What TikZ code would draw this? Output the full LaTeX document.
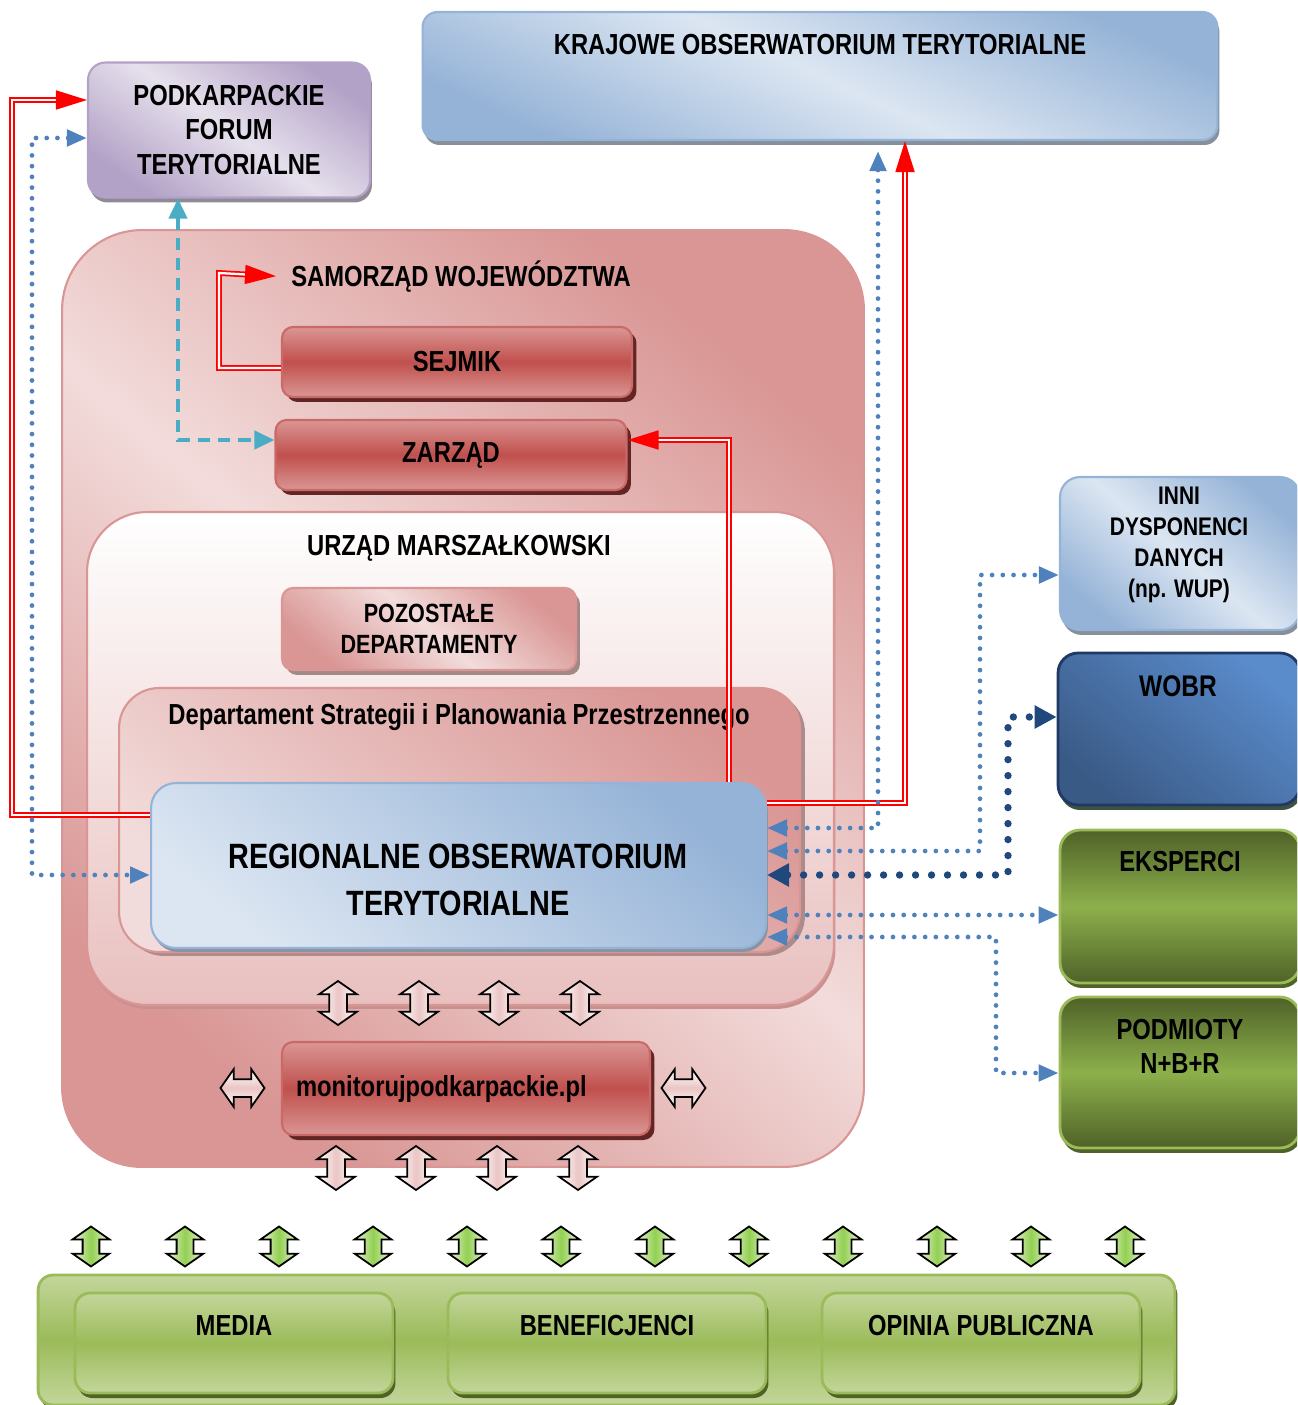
\documentclass[tikz,border=0pt]{standalone}
\usepackage{fontspec}
\setmainfont{Liberation Sans}[FakeStretch=0.82]
\usepackage{tikz}
\usetikzlibrary{shapes.geometric, shapes.arrows, arrows.meta, positioning, shadows}

\definecolor{kotdark}{HTML}{95B3D7}
\definecolor{kotlight}{HTML}{DCE6F2}
\definecolor{purdark}{HTML}{B3A2C7}
\definecolor{purlight}{HTML}{E6E0EC}
\definecolor{pinkdark}{HTML}{D99694}
\definecolor{pinklight}{HTML}{F2DCDB}
\definecolor{redmid}{HTML}{C0504D}
\definecolor{redlight}{HTML}{DA9694}
\definecolor{redshadow}{HTML}{632523}
\definecolor{wobrdark}{HTML}{3A5A86}
\definecolor{wobrlight}{HTML}{5A8BCB}
\definecolor{navy}{HTML}{1F3864}
\definecolor{olivedark}{HTML}{4F6228}
\definecolor{olivemid}{HTML}{8DB04B}
\definecolor{greenline}{HTML}{9BBB59}
\definecolor{greenlight}{HTML}{C3D69B}
\definecolor{arrowgreen}{HTML}{92D050}
\definecolor{arrowpale}{HTML}{EBF1DE}
\definecolor{dotblue}{HTML}{4F81BD}
\definecolor{dotnavy}{HTML}{1F497D}
\definecolor{dashcyan}{HTML}{4BACC6}

\begin{document}
\begin{tikzpicture}[x=0.02cm, y=-0.02cm]
			\tikzstyle{txt} = [font=\fontsize{16.5}{19.4}\selectfont\bfseries, align=center, inner sep=0pt]
			\tikzstyle{smalltxt} = [font=\fontsize{14.5}{17.6}\selectfont\bfseries, align=center, inner sep=0pt]
			\tikzstyle{kotbox} = [rectangle, rounded corners=0.3cm, draw=kotdark, line width=1.2pt, top color=kotdark, bottom color=kotdark, middle color=kotlight, shading angle=-25, drop shadow={shadow xshift=0.04cm, shadow yshift=-0.1cm, fill=gray!70!kotdark, opacity=1}]
			\tikzstyle{pftbox} = [rectangle, rounded corners=0.35cm, draw=purdark, line width=1.2pt, top color=purdark, bottom color=purdark, middle color=purlight, shading angle=-35, drop shadow={shadow xshift=0.04cm, shadow yshift=-0.1cm, fill=gray!70!purdark, opacity=1}, font=\fontsize{16.5}{19.4}\selectfont\bfseries, align=center]
			\tikzstyle{sambox} = [rectangle, rounded corners=1.6cm, draw=pinkdark, line width=1.2pt, top color=pinkdark, bottom color=pinkdark, middle color=pinklight, shading angle=-40]
			\tikzstyle{umbox} = [rectangle, rounded corners=1.2cm, draw=pinkdark, line width=1.2pt, top color=white, bottom color=pinkdark!60!white, drop shadow={shadow xshift=0.03cm, shadow yshift=-0.08cm, fill=pinkdark!80!gray, opacity=1}]
			\tikzstyle{redbox} = [rectangle, rounded corners=0.22cm, draw=redmid!85!white, line width=1.2pt, top color=redlight, bottom color=redlight, middle color=redmid, drop shadow={shadow xshift=0.09cm, shadow yshift=-0.1cm, fill=redshadow, opacity=1}, font=\fontsize{16.5}{19.4}\selectfont\bfseries]
			\tikzstyle{pinkbox} = [rectangle, rounded corners=0.22cm, draw=pinkdark, line width=1.2pt, top color=pinkdark, bottom color=pinkdark, middle color=pinklight, shading angle=-40, drop shadow={shadow xshift=0.08cm, shadow yshift=-0.1cm, fill=gray!60!pinkdark, opacity=1}, font=\fontsize{15}{17.6}\selectfont\bfseries, align=center]
			\tikzstyle{dspbox} = [rectangle, rounded corners=0.8cm, draw=pinkdark, line width=1.2pt, top color=pinkdark, bottom color=pinklight, shading angle=-40, drop shadow={shadow xshift=0.1cm, shadow yshift=-0.08cm, fill=gray!50!pinkdark, opacity=1}]
			\tikzstyle{rotbox} = [rectangle, rounded corners=0.5cm, draw=kotdark, line width=1.2pt, top color=kotdark, bottom color=kotlight, shading angle=-40, drop shadow={shadow xshift=0.04cm, shadow yshift=-0.08cm, fill=gray!60!kotdark, opacity=1}]
			\tikzstyle{innibox} = [rectangle, rounded corners=0.4cm, draw=kotdark, line width=1.2pt, top color=kotdark, bottom color=kotdark, middle color=kotlight, shading angle=-40, drop shadow={shadow xshift=0.04cm, shadow yshift=-0.1cm, fill=gray!70!kotdark, opacity=1}]
			\tikzstyle{wobrbox} = [rectangle, rounded corners=0.4cm, draw=navy, line width=1.6pt, top color=wobrlight, bottom color=wobrdark, shading angle=-40, drop shadow={shadow xshift=0.04cm, shadow yshift=-0.1cm, fill=olivedark!60!navy, opacity=1}]
			\tikzstyle{olivebox} = [rectangle, rounded corners=0.4cm, draw=greenline, line width=1.6pt, top color=olivedark, bottom color=olivedark, middle color=olivemid, drop shadow={shadow xshift=0.04cm, shadow yshift=-0.1cm, fill=olivedark, opacity=1}]
			\tikzstyle{greenbox} = [rectangle, rounded corners=0.3cm, draw=greenline, line width=1.6pt, top color=greenlight, bottom color=greenlight, middle color=greenline, drop shadow={shadow xshift=0.05cm, shadow yshift=-0.1cm, fill=olivedark, opacity=1}]
			\tikzstyle{pinkdarrow} = [double arrow, draw=black, line width=1pt, inner sep=0.16cm, minimum width=0.74cm, minimum height=0.88cm, double arrow head extend=0.2cm, double arrow tip angle=110, left color=white, right color=white, middle color=pinkdark!55!white]
			\tikzstyle{greendarrow} = [double arrow, draw=black, line width=1pt, inner sep=0.15cm, minimum width=0.72cm, minimum height=0.8cm, double arrow head extend=0.2cm, double arrow tip angle=110, left color=arrowpale, right color=arrowpale, middle color=arrowgreen, shape border rotate=90]
			\tikzstyle{redline} = [draw=red, line width=1pt, double=white, double distance=1.3pt, ->, >={Triangle[length=0.62cm, width=0.38cm, fill=red]}]
			\tikzstyle{dotline} = [draw=dotblue, line width=2.7pt, line cap=round, dash pattern=on 0pt off 6.1pt, <->, >={Triangle[length=0.4cm, width=0.32cm]}]
			\tikzstyle{navyline} = [draw=dotnavy, line width=4.2pt, line cap=round, dash pattern=on 0pt off 9.1pt, <->, >={Triangle[length=0.44cm, width=0.44cm]}]
			\tikzstyle{dashline} = [draw=dashcyan, line width=2.3pt, dash pattern=on 7pt off 4.5pt, <->, >={Triangle[length=0.4cm, width=0.36cm]}]

			\useasboundingbox (0,0) rectangle (1297,1405);
			\clip (0,0) rectangle (1297,1405);

			% samorzad
			\node (sam) [sambox, minimum width=16.04cm, minimum height=18.74cm] at (463,698.5) {};
			\node (samtitle) [txt] at (461,277) {SAMORZĄD WOJEWÓDZTWA};
			\node (sejmik) [redbox, minimum width=7cm, minimum height=1.4cm] at (457,362) {SEJMIK};
			\node (zarzad) [redbox, minimum width=7.02cm, minimum height=1.4cm] at (451,455) {ZARZĄD};

			\node (um) [umbox, minimum width=14.94cm, minimum height=9.86cm] at (460.5,758.5) {};
			\node (umtitle) [txt] at (459,548) {URZĄD MARSZAŁKOWSKI};
			\node (pozostale) [pinkbox, minimum width=5.88cm, minimum height=1.64cm] at (429,629) {POZOSTAŁE\\DEPARTAMENTY};

			\node (dsp) [dspbox, minimum width=13.62cm, minimum height=5.28cm] at (459.5,820) {};
			\node (dsptitle) [txt] at (459,717) {Departament Strategii i Planowania Przestrzennego};
			\node (rot) [rotbox, minimum width=12.3cm, minimum height=3.3cm] at (458.5,865.5) {};
			\node (rottitle) [txt, font=\fontsize{20}{26.7}\selectfont\bfseries] at (458,880) {REGIONALNE OBSERWATORIUM\\TERYTORIALNE};

			\node (mon) [redbox, minimum width=7.36cm, minimum height=1.86cm, text width=6.8cm, align=left] at (466,1088.5) {monitorujpodkarpackie.pl};

			\foreach \x [count=\i] in {338,419,499,580}
				\node (up\i) [pinkdarrow, shape border rotate=90] at (\x,1003) {};
			\foreach \x [count=\i] in {336,416,497,578}
				\node (down\i) [pinkdarrow, shape border rotate=90] at (\x,1168) {};
			\node (monleft) [pinkdarrow, top color=white, bottom color=white, middle color=pinkdark!55!white] at (242.5,1088) {};
			\node (monright) [pinkdarrow, top color=white, bottom color=white, middle color=pinkdark!55!white] at (683.5,1088) {};

			% top boxes
			\node (kot) [kotbox, minimum width=15.9cm, minimum height=2.56cm] at (820,76) {};
			\node (kottitle) [txt] at (820,45) {KRAJOWE OBSERWATORIUM TERYTORIALNE};
			\node (pft) [pftbox, minimum width=5.64cm, minimum height=2.7cm] at (229,130) {PODKARPACKIE\\FORUM\\TERYTORIALNE};

			% right boxes
			\node (inni) [innibox, minimum width=4.8cm, minimum height=3.06cm] at (1180,553.5) {};
			\node (innititle) [smalltxt] at (1179,545) {INNI\\DYSPONENCI\\DANYCH\\(np. WUP)};
			\node (wobr) [wobrbox, minimum width=4.84cm, minimum height=3.04cm] at (1179,729) {};
			\node (wobrtitle) [txt, font=\fontsize{17}{20}\selectfont\bfseries] at (1178,686) {WOBR};
			\node (eks) [olivebox, minimum width=4.8cm, minimum height=3.06cm] at (1180,906.5) {};
			\node (ekstitle) [txt] at (1180,862) {EKSPERCI};
			\node (podm) [olivebox, minimum width=4.8cm, minimum height=3.02cm] at (1180,1072.5) {};
			\node (podmtitle) [txt] at (1180,1046) {PODMIOTY\\N+B+R};

			% bottom
			\foreach \i in {0,...,11}
				\node (g\i) [greendarrow] at (91+94*\i,1246.5) {};
			\node (base) [greenbox, minimum width=22.74cm, minimum height=2.6cm] at (606.5,1340) {};
			\node (media) [greenbox, minimum width=6.36cm, minimum height=2cm] at (234,1343) {};
			\node (benef) [greenbox, minimum width=6.36cm, minimum height=2cm] at (607,1343) {};
			\node (opinia) [greenbox, minimum width=6.36cm, minimum height=2cm] at (981,1343) {};
			\node (mediatitle) [txt] at (234,1326) {MEDIA};
			\node (beneftitle) [txt] at (607,1326) {BENEFICJENCI};
			\node (opiniatitle) [txt] at (981,1326) {OPINIA PUBLICZNA};

			% connectors
			\draw [redline] (rot.west |- 0,815) -| (12,100) -- (pft.west |- 0,100);
			\draw [dotline] (pft.west |- 0,138) -| (32,875) -- (rot.west |- 0,875);
			\draw [dashline] (pft.south -| 178,0) |- (zarzad.west |- 0,440);
			\draw [redline, shorten >=0.3cm] (sejmik.west |- 0,368) -| (219,273) -- (samtitle.west);
			\draw [redline] (rot.north -| 729,0) |- (zarzad.east |- 0,440);
			\draw [redline] (rot.east |- 0,803) -| (kot.south -| 905,0);
			\draw [dotline, shorten >=0.2cm] (rot.east |- 0,828) -| (kot.south -| 878,0);
			\draw [dotline] (rot.east |- 0,851) -| (980,575) -- (inni.west |- 0,575);
			\draw [navyline] (rot.east |- 0,875) -| (1008,717) -- (wobr.west |- 0,717);
			\draw [dotline] (rot.east |- 0,915) -- (eks.west |- 0,915);
			\draw [dotline] (rot.east |- 0,937) -| (996,1073) -- (podm.west |- 0,1073);

		\end{tikzpicture}
\end{document}
